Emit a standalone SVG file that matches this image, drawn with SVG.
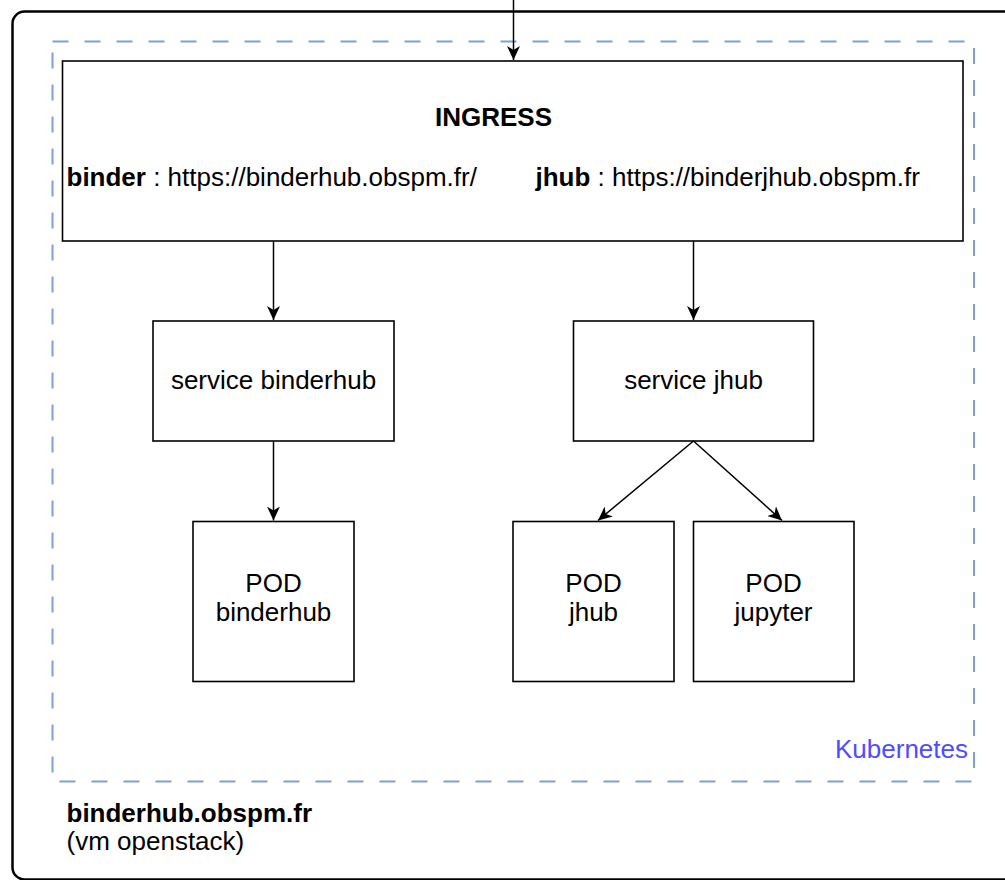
<svg xmlns="http://www.w3.org/2000/svg" width="1005" height="880" viewBox="0 0 1005 880">
  <style>
    .box { fill: #ffffff; stroke: #000000; stroke-width: 1.6; }
    .t { font-family: "Liberation Sans", Arial, sans-serif; font-size: 26px; fill: #000000; }
    .b { font-weight: bold; }
    .c { text-anchor: middle; }
    .edge { fill: none; stroke: #000000; stroke-width: 1.5; marker-end: url(#arrow); }
  </style>
  <defs>
    <marker id="arrow" viewBox="0 0 14 13" refX="14" refY="6.5" markerWidth="14" markerHeight="13" markerUnits="userSpaceOnUse" orient="auto">
      <path d="M0,0 L14,6.5 L0,13 L4,6.5 Z" fill="#000000"/>
    </marker>
  </defs>
  <rect width="1005" height="880" fill="#ffffff"/>

  <g id="vm">
    <rect x="12.5" y="11.5" width="1004" height="868" rx="12" ry="12" fill="none" stroke="#000000" stroke-width="2.5"/>
    <text class="t b" x="66.5" y="822">binderhub.obspm.fr</text>
    <text class="t" x="66.5" y="850">(vm openstack)</text>
  </g>

  <g id="kubernetes">
    <rect x="52.5" y="41.5" width="921.5" height="740" fill="none" stroke="#7ea1d4" stroke-width="2" stroke-dasharray="16 16"/>
    <text class="t" x="968" y="758" text-anchor="end" style="fill:#4d4dff">Kubernetes</text>
  </g>

  <g id="ingress">
    <rect class="box" x="62.5" y="61" width="900.5" height="180"/>
    <text class="t b c" x="493.5" y="126">INGRESS</text>
    <text class="t" x="66.5" y="186"><tspan class="b">binder</tspan> : https://binderhub.obspm.fr/</text>
    <text class="t" x="535.5" y="186"><tspan class="b">jhub</tspan> : https://binderjhub.obspm.fr</text>
  </g>

  <g id="service-binderhub">
    <rect class="box" x="153" y="321" width="241" height="120"/>
    <text class="t c" x="273.5" y="389">service binderhub</text>
  </g>

  <g id="service-jhub">
    <rect class="box" x="573.5" y="321" width="240" height="120"/>
    <text class="t c" x="693.5" y="389">service jhub</text>
  </g>

  <g id="pod-binderhub">
    <rect class="box" x="193" y="521.5" width="161" height="160"/>
    <text class="t c" x="273.5" y="592">POD</text>
    <text class="t c" x="273.5" y="621">binderhub</text>
  </g>

  <g id="pod-jhub">
    <rect class="box" x="513" y="521.5" width="161" height="160"/>
    <text class="t c" x="593.5" y="592">POD</text>
    <text class="t c" x="593.5" y="621">jhub</text>
  </g>

  <g id="pod-jupyter">
    <rect class="box" x="693.5" y="521.5" width="160.5" height="160"/>
    <text class="t c" x="773.5" y="592">POD</text>
    <text class="t c" x="773.5" y="621">jupyter</text>
  </g>

  <g id="connectors">
    <path class="edge" d="M513.5,0 L513.5,60"/>
    <path class="edge" d="M273.5,241 L273.5,320"/>
    <path class="edge" d="M693.5,241 L693.5,320"/>
    <path class="edge" d="M273.5,441 L273.5,520.5"/>
    <path class="edge" d="M693.5,441 L598,520.5"/>
    <path class="edge" d="M693.5,441 L782,520.5"/>
  </g>
</svg>
